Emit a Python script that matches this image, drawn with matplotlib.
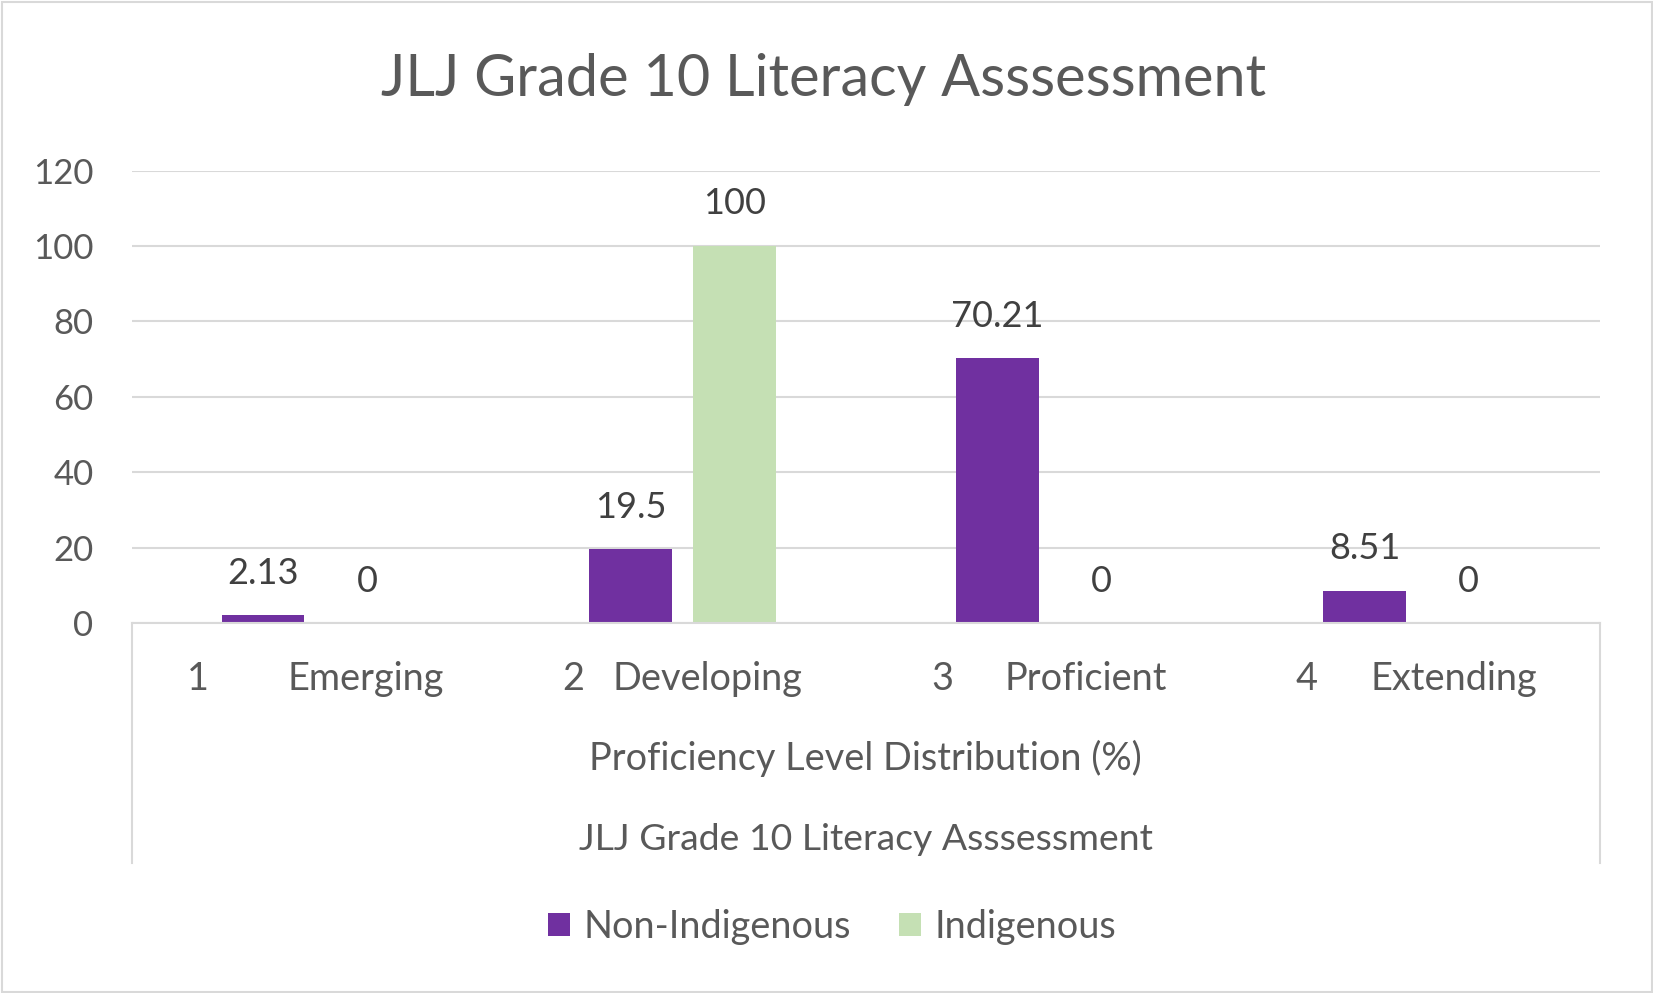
import matplotlib
matplotlib.use("Agg")
import matplotlib.pyplot as plt
from matplotlib.lines import Line2D
from matplotlib.patches import Rectangle, Patch
import numpy as np

plt.rcParams['font.family'] = ['Lato', 'DejaVu Sans']

# ---- data ----
title = "JLJ Grade 10 Literacy Asssessment"
level_numbers = ["1", "2", "3", "4"]
level_names = ["Emerging", "Developing", "Proficient", "Extending"]
series_names = ["Non-Indigenous", "Indigenous"]
non_indigenous = [2.13, 19.5, 70.21, 8.51]
indigenous = [0, 100, 0, 0]
y_ticks = [0, 20, 40, 60, 80, 100, 120]
axis_title_1 = "Proficiency Level Distribution (%)"
axis_title_2 = "JLJ Grade 10 Literacy Asssessment"

# ---- style ----
W, H = 1653, 993
DPI = 100
PURPLE = "#7030A0"
GREEN = "#C5E0B4"
TXT = "#595959"
LBL = "#404040"
GRID = "#D9D9D9"

fig = plt.figure(figsize=(W / DPI, H / DPI), dpi=DPI)
fig.patch.set_facecolor("white")

def fx(px):
    return px / W

def fy(py):
    return 1 - py / H

ax_l, ax_r, ax_t, ax_b = 131.7, 1600, 170.5, 623
ax = fig.add_axes([fx(ax_l), fy(ax_b), fx(ax_r - ax_l), (ax_b - ax_t) / H])

x = np.arange(len(level_names))
bw = 0.2245
off = 0.1417
b1 = ax.bar(x - off, non_indigenous, bw, color=PURPLE, zorder=3)
b2 = ax.bar(x + off, indigenous, bw, color=GREEN, zorder=3)

ax.set_xlim(-0.5, len(level_names) - 0.5)
ax.set_ylim(0, 120)
ax.set_yticks(y_ticks)
ax.set_yticklabels([str(v) for v in y_ticks])
ax.tick_params(axis="y", length=0, pad=27.5, labelsize=25, labelcolor=TXT)
ax.set_xticks([])
for s in ax.spines.values():
    s.set_visible(False)
ax.grid(axis="y", color=GRID, linewidth=1.5, zorder=0)
ax.set_axisbelow(True)

def fmt(v):
    return ("%g" % v)

for bars, vals in ((b1, non_indigenous), (b2, indigenous)):
    for rect, v in zip(bars, vals):
        ax.annotate(fmt(v), (rect.get_x() + rect.get_width() / 2, v),
                    xytext=(0, 30.2), textcoords="offset points",
                    ha="center", va="center", fontsize=26, color=LBL,
                    zorder=4)

# axis box (multi-level category axis)
box_bottom = 862.7
for (xa, ya, xb, yb) in [(ax_l, ax_b, ax_r, ax_b),
                         (ax_l, ax_b, ax_l, box_bottom),
                         (ax_r, ax_b, ax_r, box_bottom)]:
    fig.add_artist(Line2D([fx(xa), fx(xb)], [fy(ya), fy(yb)],
                          color=GRID, linewidth=1.5))

# category labels: number left, name right, centered on category
group_w = [257, 241, 236, 241]
cat_w = (ax_r - ax_l) / len(level_names)
for i, (num, name) in enumerate(zip(level_numbers, level_names)):
    cx = ax_l + cat_w * (i + 0.5)
    fig.text(fx(cx - group_w[i] / 2), fy(679), num, ha="left", va="center",
             fontsize=27.3, color=TXT)
    fig.text(fx(cx + group_w[i] / 2), fy(679), name, ha="right", va="center",
             fontsize=27.3, color=TXT)

mid = fx((ax_l + ax_r) / 2)
fig.text(mid, fy(758), axis_title_1, ha="center", va="center",
         fontsize=27.3, color=TXT)
fig.text(mid, fy(839), axis_title_2, ha="center", va="center",
         fontsize=26.9, color=TXT)

# title
fig.text(fx(824), fy(80), title, ha="center", va="center", fontsize=41.5,
         color=TXT)

# legend
handles = [Patch(facecolor=PURPLE), Patch(facecolor=GREEN)]
leg = fig.legend(handles, series_names, loc="center",
                 bbox_to_anchor=(fx(832), fy(927)), ncol=2, frameon=False,
                 fontsize=27.3, handlelength=0.58, handleheight=0.58,
                 handletextpad=0.34, columnspacing=1.28, borderaxespad=0)
for t in leg.get_texts():
    t.set_color(TXT)

# figure border
fig.add_artist(Rectangle((fx(1.5), fy(991.5)), fx(W - 3), (H - 3) / H,
                         fill=False, edgecolor=GRID, linewidth=1.5,
                         transform=fig.transFigure))

fig.savefig("out.png", dpi=DPI)
